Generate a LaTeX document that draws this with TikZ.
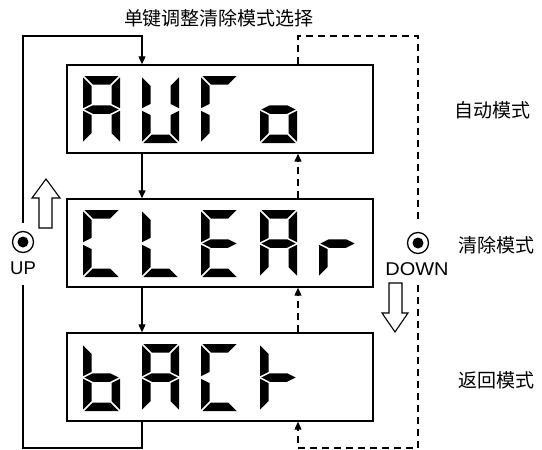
\documentclass[tikz,border=0pt]{standalone}
\usepackage{fontspec}
\newfontfamily\cjk{Noto Sans CJK SC}
\newfontfamily\lsans{Liberation Sans}
\usetikzlibrary{arrows.meta}
\def\dW{37}\def\dH{67}\def\dT{8.5}\def\dg{1.3}
\newcommand\mysega{\fill (\dg,0) -- ({\dW-\dg},0) -- ({\dW-\dT-\dg},\dT) -- ({\dT+\dg},\dT) -- cycle;}
\newcommand\mysegb{\fill (\dW,\dg) -- (\dW,{\dH/2-\dg}) -- ({\dW-\dT},{\dH/2-\dT/2-\dg}) -- ({\dW-\dT},{\dT+\dg}) -- cycle;}
\newcommand\mysegc{\fill (\dW,{\dH/2+\dg}) -- (\dW,{\dH-\dg}) -- ({\dW-\dT},{\dH-\dT-\dg}) -- ({\dW-\dT},{\dH/2+\dT/2+\dg}) -- cycle;}
\newcommand\mysegd{\fill (\dg,\dH) -- ({\dW-\dg},\dH) -- ({\dW-\dT-\dg},{\dH-\dT}) -- ({\dT+\dg},{\dH-\dT}) -- cycle;}
\newcommand\mysege{\fill (0,{\dH/2+\dg}) -- (0,{\dH-\dg}) -- (\dT,{\dH-\dT-\dg}) -- (\dT,{\dH/2+\dT/2+\dg}) -- cycle;}
\newcommand\mysegf{\fill (0,\dg) -- (0,{\dH/2-\dg}) -- (\dT,{\dH/2-\dT/2-\dg}) -- (\dT,{\dT+\dg}) -- cycle;}
\newcommand\mysegg{\fill (\dg,{\dH/2}) -- ({\dT+\dg},{\dH/2-\dT/2}) -- ({\dW-\dT-\dg},{\dH/2-\dT/2}) -- ({\dW-\dg},{\dH/2}) -- ({\dW-\dT-\dg},{\dH/2+\dT/2}) -- ({\dT+\dg},{\dH/2+\dT/2}) -- cycle;}
\newcommand\sevseg[3]{\begin{scope}[shift={(#1,#2)}]\foreach \s in {#3}{\csname myseg\s\endcsname}\end{scope}}
\begin{document}
\begin{tikzpicture}[x=1pt,y=-1pt,
  lcd/.style={draw=black,line width=1.4pt,minimum width=306pt,minimum height=88pt,inner sep=0pt},
  conn/.style={line width=1.1pt,draw=black},
  dconn/.style={line width=1.1pt,draw=black,dash pattern=on 7pt off 5pt},
  tip/.style={-{Triangle[length=8pt,width=7pt]}},
  cjklabel/.style={font=\cjk\fontsize{19}{19}\selectfont,inner sep=0pt},
  btntext/.style={font=\lsans\fontsize{18.5}{18.5}\selectfont,inner sep=0pt},
  hollow/.style={draw=black,line width=1.1pt,fill=white,line join=miter}]
\useasboundingbox (0,0) rectangle (542,450);
% boxes
\node[lcd] (auto) at (220,109) {};
\node[lcd] (clear) at (220,243) {};
\node[lcd] (back) at (220,377) {};
% digits
\sevseg{83}{76}{a,b,c,e,f,g}
\sevseg{142}{76}{b,c,d,e,f}
\sevseg{201}{76}{a,e,f}
\sevseg{260}{76}{c,d,e,g}
\sevseg{83}{210}{a,d,e,f}
\sevseg{142}{210}{d,e,f}
\sevseg{201}{210}{a,d,e,f,g}
\sevseg{260}{210}{a,b,c,e,f,g}
\sevseg{319}{210}{e,g}
\sevseg{83}{344}{c,d,e,f,g}
\sevseg{142}{344}{a,b,c,e,f,g}
\sevseg{201}{344}{a,d,e,f}
\sevseg{260}{344}{e,f,g}
% coordinates
\coordinate (tl) at (23,36);
\coordinate (tm) at (142,36);
\coordinate (bl) at (23,448);
\coordinate (lgt) at (23,223);
\coordinate (lgb) at (23,285);
\coordinate (dx) at (298,36);
\coordinate (tr) at (418,36);
\coordinate (br) at (418,448);
\coordinate (bd) at (298,448);
\coordinate (rgt) at (418,223);
\coordinate (rgb) at (418,285);
% solid loop
\draw[conn,tip] (lgt) -- (tl) -- (tm) -- (auto.north -| tm);
\draw[conn,tip] (auto.south -| tm) -- (clear.north -| tm);
\draw[conn,tip] (clear.south -| tm) -- (back.north -| tm);
\draw[conn] (back.south -| tm) -- (tm |- bl) -- (bl) -- (lgb);
% dashed loop
\draw[dconn] (auto.north -| dx) -- (dx) -- (tr) -- (rgt);
\draw[dconn,tip] (rgb) -- (br) -- (bd) -- (back.south -| dx);
\draw[dconn,tip] (clear.north -| dx) -- (auto.south -| dx);
\draw[dconn,tip] (back.north -| dx) -- (clear.south -| dx);
% buttons
\node[circle,draw=black,line width=1.3pt,minimum size=21pt,inner sep=0pt] (upbtn) at (23,242) {};
\fill (upbtn.center) circle (5.5pt);
\node[btntext] (uptxt) at (23,268) {UP};
\node[circle,draw=black,line width=1.3pt,minimum size=21pt,inner sep=0pt] (dnbtn) at (418,243) {};
\fill (dnbtn.center) circle (5.5pt);
\node[btntext,xscale=1.08] (dntxt) at (417,269) {DOWN};
% hollow arrows
\draw[hollow] (46,179) -- (60,198) -- (52,198) -- (52,228) -- (39,228) -- (39,198) -- (32,198) -- cycle;
\draw[hollow] (389,283) -- (402,283) -- (402,313) -- (408,313) -- (395,332) -- (382,313) -- (389,313) -- cycle;
% labels
\node[cjklabel] (title) at (219,18) {单键调整清除模式选择};
\node[cjklabel] (l1) at (492,110) {自动模式};
\node[cjklabel] (l2) at (496,245) {清除模式};
\node[cjklabel] (l3) at (496,380) {返回模式};
\end{tikzpicture}
\end{document}
